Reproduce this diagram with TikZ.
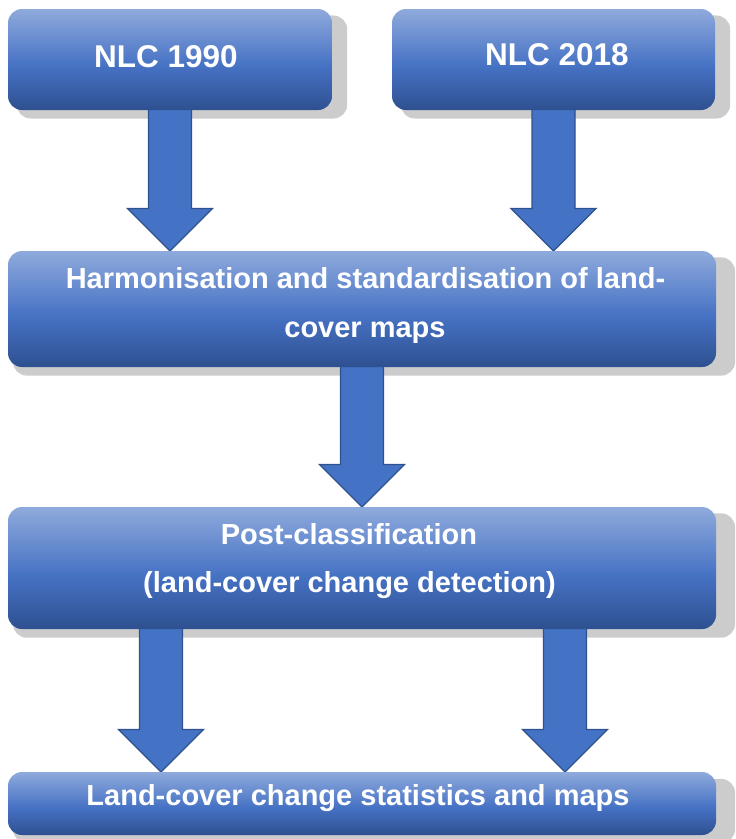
\documentclass[tikz,border=0pt]{standalone}
\usepackage{fontspec}
\setmainfont{Liberation Sans}
\usetikzlibrary{calc}

% colours of the stage boxes, arrows and shadows
\definecolor{gtop}{RGB}{143,170,220}
\definecolor{gmid}{RGB}{70,114,196}
\definecolor{gbot}{RGB}{46,80,144}
\definecolor{arrowfill}{RGB}{68,114,196}
\definecolor{arrowline}{RGB}{47,82,143}
\definecolor{shadowgray}{RGB}{204,204,204}

% light-to-dark vertical gradient of the boxes
\pgfdeclareverticalshading{boxshade}{100bp}{color(0bp)=(gbot); color(25bp)=(gbot); color(47bp)=(gmid); color(75bp)=(gtop); color(100bp)=(gtop)}

\pgfdeclarelayer{shadowlayer}
\pgfdeclarelayer{arrowlayer}
\pgfsetlayers{shadowlayer,arrowlayer,main}

\tikzset{
  stagebox/.style={rectangle, rounded corners=14pt, shading=boxshade, draw=none,
    inner sep=0pt, outer sep=0pt},
  titletext/.style={text=white, font=\fontsize{31.5}{36}\selectfont\bfseries,
    anchor=base, inner sep=0pt},
  stagetext/.style={text=white, font=\fontsize{29}{34}\selectfont\bfseries,
    anchor=base, inner sep=0pt},
  flowshape/.style={fill=arrowfill, draw=arrowline, line width=1.3pt, line join=miter},
}

% soft grey shadow: 102% of the box, shifted right and down
\newcommand{\boxshadow}[1]{%
  \begin{pgfonlayer}{shadowlayer}
    \fill[shadowgray, rounded corners=14pt]
      let \p1=(#1.south west), \p2=(#1.north east) in
      ({\x1-0.01*(\x2-\x1)+12pt}, {\y1-0.01*(\y2-\y1)-7.5pt}) rectangle
      ({\x2+0.01*(\x2-\x1)+12pt}, {\y2+0.01*(\y2-\y1)-7.5pt});
  \end{pgfonlayer}}

% block arrow from #1 (shaft top) down to #2 (tip)
\newcommand{\drawflow}[2]{%
  \begin{pgfonlayer}{arrowlayer}
    \draw[flowshape] let \p1=(#1), \p2=(#2) in
      ({\x2-21.5pt},{\y1+3pt}) -- ({\x2+21.5pt},{\y1+3pt}) --
      ({\x2+21.5pt},{\y2+42.5pt}) -- ({\x2+42.5pt},{\y2+42.5pt}) --
      (\x2,\y2) -- ({\x2-42.5pt},{\y2+42.5pt}) --
      ({\x2-21.5pt},{\y2+42.5pt}) -- cycle;
  \end{pgfonlayer}}

\begin{document}
\begin{tikzpicture}[x=1pt, y=-1pt]
  \useasboundingbox (0,0) rectangle (736,839);

  % stage boxes
  \node[stagebox, minimum width=324pt, minimum height=101pt] (b1) at (170,59.5) {};
  \node[stagebox, minimum width=323pt, minimum height=101pt] (b2) at (553.5,59.5) {};
  \node[stagebox, minimum width=708pt, minimum height=116pt] (b3) at (362,309) {};
  \node[stagebox, minimum width=708pt, minimum height=122pt] (b4) at (362,568) {};
  \node[stagebox, minimum width=708pt, minimum height=63pt] (b5) at (362,803.5) {};

  \boxshadow{b1}
  \boxshadow{b2}
  \boxshadow{b3}
  \boxshadow{b4}
  \boxshadow{b5}

  % box texts
  \node[titletext] (t1) at (166,67) {NLC 1990};
  \node[titletext] (t2) at (557,65) {NLC 2018};
  \node[stagetext] (t3a) at (365.5,288) {Harmonisation and standardisation of land-};
  \node[stagetext] (t3b) at (365,337) {cover maps};
  \node[stagetext] (t4a) at (349,544) {Post-classification};
  \node[stagetext] (t4b) at (349.5,592) {(land-cover change detection)};
  \node[stagetext] (t5) at (358,805) {Land-cover change statistics and maps};

  % connecting block arrows
  \coordinate (s4l) at ($(b4.south)+(-201,0)$);
  \coordinate (s4r) at ($(b4.south)+(203,0)$);
  \drawflow{b1.south}{b1.south |- b3.north}
  \drawflow{b2.south}{b2.south |- b3.north}
  \drawflow{b3.south}{b3.south |- b4.north}
  \drawflow{s4l}{s4l |- b5.north}
  \drawflow{s4r}{s4r |- b5.north}
\end{tikzpicture}
\end{document}
